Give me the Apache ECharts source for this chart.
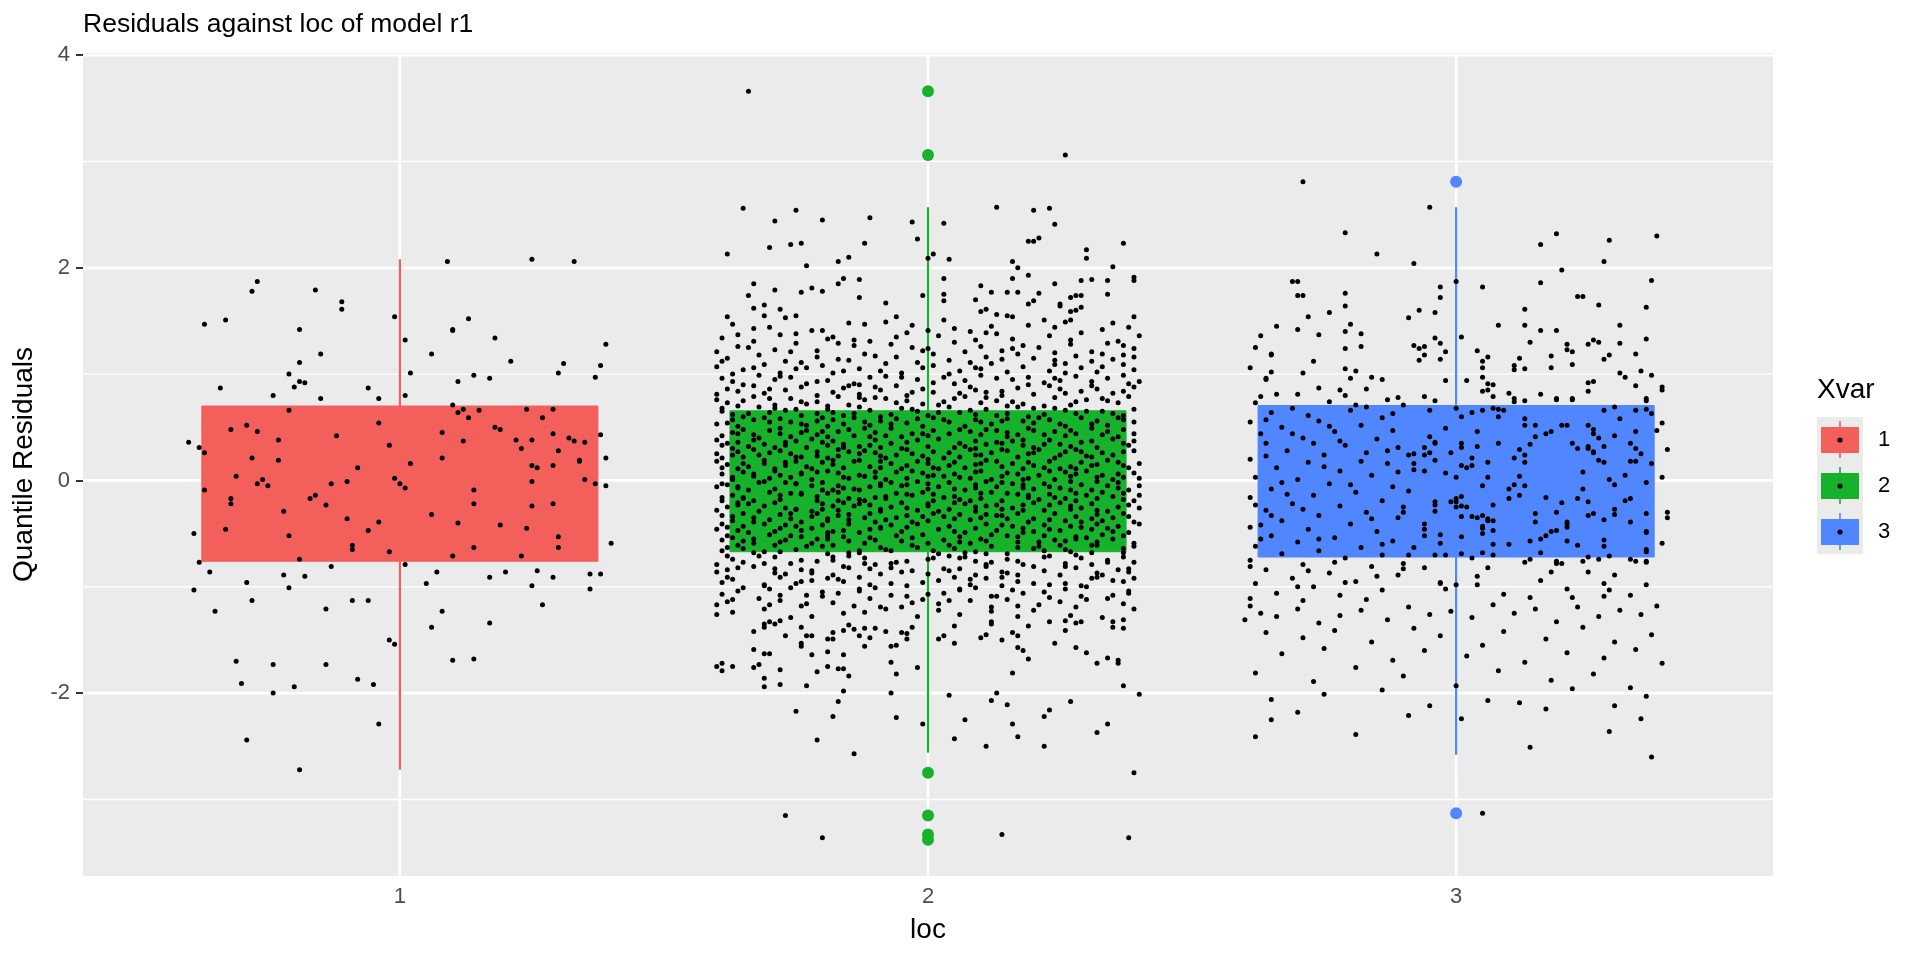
<!DOCTYPE html>
<html>
<head>
<meta charset="utf-8">
<script src="https://cdn.jsdelivr.net/npm/echarts@6.0.0/dist/echarts.min.js"></script>
<style>
html,body{margin:0;padding:0;background:#ffffff;}
#chart{width:1920px;height:960px;}
</style>
</head>
<body>
<div id="chart"></div>
<script>
// ---------- data ----------
const groups = [1, 2, 3];
const groupNames = ['1', '2', '3'];
const groupColors = ['#F35F5B', '#16B22B', '#5086FF'];

const whiskerLow  = [-2.72, -2.56, -2.58];
const boxQ1       = [-0.76, -0.67, -0.72];
const boxMedian   = [-0.03,  0.01, -0.02];
const boxQ3       = [ 0.70,  0.655, 0.705];
const whiskerHigh = [ 2.08,  2.57,  2.57];

const outlierGroup = [2, 2, 2, 2, 2, 2, 3, 3];
const outlierValue = [3.66, 3.06, -2.75, -3.15, -3.33, -3.38, 2.81, -3.13];

const yTicks = [-2, 0, 2, 4];
const yMinorLines = [-3, -1, 1, 3];
const xTicks = [1, 2, 3];

// jittered residuals: pairs (horizontal jitter offset, residual), both x100
const jitter1 = [
-27,187,-28,178,-37,147,-33,151,-16,179,-11,168,-11,161,-19,142,-1,154,1,132,
-15,119,-19,111,-21,100,-19,93,-18,92,-20,88,-34,87,-24,80,-15,77,-6,87,
-4,77,1,80,2,101,9,206,25,208,33,206,6,119,10,141,10,142,13,152,
18,134,21,112,11,93,14,99,17,96,10,71,12,67,11,64,15,66,13,59,
24,67,29,67,27,59,31,110,30,101,37,97,38,108,39,128,-21,66,-32,48,
-29,52,-27,46,-40,36,-38,31,-37,26,-23,38,-28,21,-23,19,-31,4,-26,1,
-12,42,-4,54,-2,33,-8,12,2,16,-1,2,-10,-1,8,45,8,21,12,37,
18,50,19,48,22,38,23,30,25,38,29,44,30,28,32,40,33,37,35,36,
38,43,39,21,34,19,34,18,25,14,26,12,29,14,35,1,25,-1,
-27,-3,-25,-5,-37,-9,-32,-17,-32,-22,-17,-17,-16,-14,-14,-23,-13,-3,-22,-29,
-10,-36,-4,-39,-6,-47,-39,-50,-33,-46,-21,-52,-9,-61,-9,-65,-2,-67,0,-3,
1,-7,6,-32,11,-40,14,-9,14,-22,19,-42,24,-45,25,-24,29,-22,30,-53,
30,-63,14,-63,10,-71,23,-71,37,-3,39,-5,40,-59,-38,-77,-36,-86,-39,-103,
-29,-96,-35,-123,-28,-113,-22,-89,-21,-101,-19,-74,-18,-90,-13,-81,-14,-121,-9,-113,
-6,-113,1,-79,5,-97,7,-86,8,-123,6,-138,17,-134,17,-91,20,-86,26,-85,
25,-99,27,-117,29,-91,36,-88,36,-102,38,-88,-2,-150,-1,-154,10,-169,14,-168,
-31,-170,-24,-173,-14,-173,-30,-191,-20,-194,-24,-200,-8,-187,-5,-192,-4,-229,-29,-244,-19,-272
];

const jitter2 = [
// upper tail
-34,366,26,306,-35,256,-25,254,-29,244,-20,245,-11,247,-3,243,3,242,-2,227,
-38,213,-30,219,-26,222,-24,223,-12,223,-23,202,-17,206,-15,210,0,209,1,213,
4,208,13,257,20,254,23,256,24,241,19,225,20,225,21,228,30,217,30,209,
37,223,35,201,16,206,17,200,16,190,19,193,-33,185,-34,174,-29,179,-24,177,
-22,181,-20,178,-17,185,-16,190,-13,189,-13,172,-8,167,-1,174,3,190,3,175,
3,169,-33,162,-31,165,-28,161,-31,155,-27,153,-25,155,-38,154,-6,154,9,170,
10,183,12,177,10,159,11,161,13,156,15,155,16,154,15,177,17,177,21,176,
20,169,19,166,24,185,25,164,25,166,27,172,28,174,29,174,29,188,31,189,
34,188,34,175,39,191,39,188,27,159,28,160,29,163,39,154,22,151,27,151,3,151,
// middle
-37,147,-22,141,-8,149,5,143,19,146,33,142,-30,144,-15,148,0,141,12,145,26,149,38,144,-3,146,
-39,134,-25,138,-11,131,2,136,16,133,29,139,-33,131,-18,135,-4,139,9,132,23,136,36,131,-28,137,13,138,-14,132,
-36,126,-21,122,-7,128,7,121,21,125,34,129,-29,123,-14,127,0,124,14,122,27,128,39,124,-40,121,-25,129,-3,125,18,127,31,121,
-38,115,-24,111,-10,117,4,113,17,119,31,112,-32,118,-17,114,-2,111,11,116,24,113,37,118,-27,112,-12,119,8,111,20,115,35,114,-6,116,28,117,
-35,104,-20,108,-5,101,9,106,23,103,37,109,-40,107,-28,101,-13,105,1,108,15,102,29,106,-31,109,-16,103,-1,106,12,110,26,101,39,104,-23,106,6,103,33,107,
-37,93,-26,97,-14,91,-2,95,10,99,22,92,34,96,-32,99,-19,94,-8,98,5,91,16,95,28,98,40,93,-39,96,-23,91,-11,97,1,92,13,96,25,94,37,99,-29,95,19,97,
-36,84,-24,88,-13,81,-1,86,11,83,23,89,35,82,-30,86,-18,83,-6,89,6,82,17,87,29,84,39,88,-40,81,-27,85,-15,89,-3,83,8,88,20,81,32,86,-33,89,-9,85,14,84,26,82,
-38,73,-26,77,-15,71,-4,75,7,79,18,72,30,76,-33,79,-21,74,-10,78,2,71,13,75,24,78,36,73,-40,76,-29,71,-17,79,-6,73,5,77,16,74,27,71,38,79,-35,75,-23,72,-12,76,10,73,33,77,
-37,62,-27,66,-16,61,-5,68,6,64,17,69,28,63,39,67,-32,69,-21,63,-11,66,0,61,11,67,22,62,33,65,-39,65,-29,68,-18,64,-7,62,4,69,15,63,26,66,37,61,-34,63,-24,61,-13,69,-2,65,9,62,20,68,
-38,54,-28,58,-19,51,-9,56,1,59,12,53,23,57,34,52,-33,57,-23,52,-14,59,-4,54,7,51,18,56,29,59,39,55,-36,51,-26,55,-16,53,-6,58,4,55,15,58,26,51,37,57,-31,59,-21,56,-11,52,9,57,20,54,31,53,-1,51,
-39,42,-30,47,-21,43,-12,49,-3,44,6,48,15,41,24,46,33,43,-35,48,-26,41,-17,46,-8,42,1,47,10,43,19,49,28,44,37,48,-37,45,-28,49,-19,41,-10,45,0,42,8,46,17,43,27,47,36,41,-33,43,-24,45,-15,48,-5,41,13,47,31,49,
-38,35,-29,31,-20,36,-11,33,-2,38,7,32,16,37,25,34,35,39,-34,32,-25,37,-16,31,-7,35,2,39,11,34,20,31,29,36,38,33,-40,38,-31,34,-22,39,-13,32,-4,36,5,31,14,35,23,38,32,31,-36,36,-27,33,-18,37,-9,31,9,37,18,33,39,37,
-37,24,-28,28,-19,21,-10,26,-1,23,8,29,17,22,26,27,35,24,-33,29,-24,22,-15,27,-6,24,3,21,12,26,21,29,30,23,39,28,-39,21,-30,26,-21,23,-12,28,-3,25,6,22,15,28,24,21,33,26,-35,22,-26,25,-17,29,-8,21,1,27,10,24,19,25,28,29,
-38,15,-29,11,-20,17,-11,13,-2,18,7,12,16,16,25,11,34,19,-34,13,-25,18,-16,12,-7,16,2,11,11,19,20,14,29,17,38,12,-40,18,-31,16,-22,11,-13,19,-4,14,5,17,14,13,23,18,32,15,-36,11,-27,14,-18,19,-9,12,0,16,9,15,18,11,27,13,36,17,
-39,6,-30,2,-21,8,-12,4,-3,9,6,3,15,7,24,1,33,5,-35,8,-26,3,-17,7,-8,1,1,5,10,9,19,2,28,6,37,3,-37,1,-28,5,-19,9,-10,3,-1,7,8,2,17,6,26,8,35,1,-33,4,-24,6,-15,2,-6,8,3,4,12,1,21,5,30,9,39,7,
-38,-4,-29,-8,-20,-2,-11,-6,-2,-1,7,-9,16,-3,25,-7,34,-5,-34,-9,-25,-3,-16,-7,-7,-2,2,-6,11,-1,20,-8,29,-4,38,-9,-40,-6,-31,-1,-22,-5,-13,-9,-4,-4,5,-8,14,-2,23,-6,32,-1,-36,-7,-27,-2,-18,-9,-9,-5,0,-3,9,-7,18,-4,27,-9,36,-2,
-37,-14,-28,-18,-19,-12,-10,-16,-1,-11,8,-19,17,-13,26,-17,35,-15,-33,-19,-24,-13,-15,-17,-6,-12,3,-16,12,-11,21,-18,30,-14,39,-19,-39,-16,-30,-11,-21,-15,-12,-19,-3,-14,6,-18,15,-12,24,-16,33,-11,-35,-17,-26,-12,-17,-19,-8,-15,1,-13,10,-17,19,-14,28,-19,37,-12,
-38,-25,-29,-21,-20,-27,-11,-23,-2,-28,7,-22,16,-26,25,-21,34,-29,-34,-22,-25,-27,-16,-21,-7,-25,2,-29,11,-24,20,-21,29,-26,38,-23,-40,-28,-31,-24,-22,-29,-13,-22,-4,-26,5,-21,14,-27,23,-23,32,-28,-36,-21,-27,-26,-18,-24,-9,-29,0,-22,9,-25,18,-28,27,-24,
-39,-33,-30,-37,-21,-31,-12,-35,-3,-39,6,-32,15,-36,24,-31,33,-38,-35,-31,-26,-36,-17,-33,-8,-37,1,-31,10,-35,19,-39,28,-34,37,-31,-37,-38,-28,-32,-19,-36,-10,-39,-1,-34,8,-37,17,-31,26,-38,35,-35,-33,-35,-24,-39,-15,-32,-6,-35,13,-33,31,-36,39,-39,
-38,-44,-29,-48,-20,-42,-11,-46,-2,-41,7,-49,16,-43,25,-47,34,-45,-34,-49,-25,-43,-16,-47,-7,-42,2,-46,11,-41,20,-48,29,-44,38,-49,-40,-46,-31,-41,-22,-45,-13,-49,-4,-44,5,-48,14,-42,23,-46,32,-41,-36,-47,-27,-42,-18,-48,-9,-45,18,-45,36,-43,
-37,-54,-28,-58,-19,-52,-10,-56,-1,-51,8,-59,17,-53,26,-57,35,-55,-33,-59,-24,-53,-15,-57,-6,-52,3,-56,12,-51,21,-58,30,-54,39,-59,-39,-56,-30,-51,-21,-55,-12,-59,-3,-54,6,-58,15,-52,24,-56,33,-51,-35,-57,-26,-52,10,-55,28,-53,
-38,-63,-28,-67,-18,-61,-8,-65,2,-69,12,-62,22,-66,32,-61,-33,-68,-23,-62,-13,-66,-3,-61,7,-68,17,-63,27,-67,37,-64,-39,-66,-29,-61,-19,-69,-9,-63,1,-66,11,-69,21,-62,31,-68,39,-62,-35,-64,-15,-68,5,-64,25,-61,
-37,-74,-26,-78,-15,-71,-4,-76,7,-72,18,-79,29,-73,39,-77,-32,-71,-21,-76,-10,-79,1,-73,12,-77,23,-71,34,-75,-40,-79,-29,-72,-18,-75,-7,-78,4,-71,15,-74,26,-78,37,-72,-35,-77,-12,-73,9,-76,31,-79,
-38,-84,-27,-88,-16,-81,-5,-86,6,-83,17,-89,28,-82,38,-86,-33,-81,-22,-87,-11,-83,0,-88,11,-81,22,-85,33,-89,-40,-86,-29,-83,-18,-89,-7,-82,4,-85,15,-87,26,-81,36,-84,-24,-84,9,-89,
-37,-93,-25,-97,-13,-91,-1,-96,11,-92,23,-98,35,-94,-31,-99,-19,-92,-7,-97,5,-91,17,-95,29,-99,39,-92,-39,-96,-28,-91,-16,-95,-4,-99,8,-93,20,-97,32,-91,-22,-94,14,-99,
-36,-104,-23,-108,-10,-101,3,-106,16,-103,29,-109,-30,-102,-17,-106,-4,-109,9,-101,22,-105,35,-108,-39,-107,-26,-101,-13,-104,0,-107,13,-109,26,-102,38,-104,-20,-109,6,-103,
-38,-114,-24,-118,-11,-111,2,-116,15,-112,28,-119,-32,-111,-18,-115,-5,-119,8,-113,21,-117,34,-111,-40,-117,-28,-113,-14,-118,-1,-112,12,-119,25,-114,37,-116,
-37,-124,-22,-128,-8,-121,6,-126,20,-122,33,-129,-31,-121,-16,-125,-2,-128,12,-123,27,-127,39,-121,-40,-126,-26,-129,-12,-124,2,-122,17,-128,
// lower tail
-40,-175,-39,-172,-39,-179,-37,-175,-33,-176,-32,-173,-33,-159,-33,-142,-31,-163,-30,-163,
-31,-135,-31,-138,-30,-133,-29,-135,-28,-132,-31,-186,-31,-194,-28,-192,-28,-178,-27,-146,
-24,-153,-24,-156,-24,-138,-23,-146,-22,-146,-22,-164,-21,-180,-23,-193,-25,-217,-21,-244,
-14,-257,-18,-222,-17,-208,-16,-198,-19,-175,-17,-177,-16,-177,-15,-184,-19,-161,-16,-164,
-19,-149,-18,-149,-18,-143,-16,-141,-15,-136,-14,-140,-13,-146,-12,-139,-12,-156,-11,-148,
-10,-139,-8,-142,-7,-156,-6,-155,-7,-171,-6,-182,-7,-200,-6,-223,-5,-143,-4,-144,
-4,-149,-3,-138,-2,-176,-1,-229,2,-149,3,-146,5,-137,5,-153,4,-202,7,-225,
5,-243,11,-250,10,-148,11,-145,12,-135,12,-133,14,-150,16,-143,17,-146,17,-157,
18,-160,19,-168,16,-181,19,-137,13,-200,12,-207,15,-211,16,-229,17,-241,22,-222,
23,-216,22,-250,23,-133,24,-153,26,-141,26,-132,28,-157,28,-134,29,-133,30,-162,
27,-208,32,-172,34,-167,36,-169,36,-172,35,-133,35,-138,37,-131,37,-139,37,-193,
40,-201,32,-237,34,-229,39,-275,-27,-315,-20,-336,14,-333,38,-336
];

// further group-2 residuals in the dense central cloud (same encoding)
const jitter2b = [
-33,143,-12,147,8,140,24,144,35,148,-20,141,
-36,137,-19,133,-6,135,11,139,27,132,40,136,5,130,
-34,125,-17,129,-1,122,10,126,24,120,37,127,-26,121,16,124,
-39,112,-21,116,-8,110,1,119,14,114,26,110,39,116,-15,113,33,119,
-37,100,-25,105,-9,103,4,100,18,107,32,102,-33,106,-18,101,10,105,24,109,
-35,90,-21,93,-5,97,7,94,19,90,31,93,-28,98,-13,90,3,97,24,96,38,91,
-38,86,-21,80,-10,88,1,83,14,80,25,86,37,84,-31,82,-16,87,-4,80,9,85,31,89,
-36,70,-24,74,-13,78,-1,72,11,78,22,70,34,75,-30,77,-19,70,-8,77,3,74,15,70,28,74,
-39,68,-30,64,-19,67,-9,60,2,64,13,61,24,68,35,63,-35,60,-25,67,-14,63,-3,67,8,66,19,60,30,65,
-37,57,-24,53,-12,55,-2,58,10,55,21,59,32,56,-40,53,-30,55,-18,57,-7,53,3,57,14,56,25,53,36,59,-20,59,
-36,44,-23,47,-14,42,-1,44,11,48,22,43,34,46,-32,40,-20,46,-7,49,4,44,15,45,26,42,39,44,-28,44,-11,41,20,47,
-39,33,-27,36,-16,34,-5,30,6,35,18,38,27,32,37,35,-33,38,-23,31,-10,38,0,32,13,36,22,34,31,37,-37,30,-19,33,9,30,
-36,27,-25,22,-13,25,-4,29,9,24,20,26,31,22,-32,24,-21,27,-9,23,4,26,14,29,25,24,37,27,-40,25,-17,23,0,20,29,27,
-35,16,-23,13,-14,18,-5,11,4,14,13,18,22,12,31,14,40,16,-39,12,-27,17,-18,15,-9,18,1,12,10,16,19,17,28,11,37,14,-31,19,
-37,3,-24,7,-13,5,-4,2,5,6,14,4,23,9,32,3,-33,6,-22,1,-10,8,0,4,9,8,18,1,27,4,36,6,-29,9,-16,3,40,2,
-36,-6,-25,-3,-14,-8,-5,-5,4,-2,13,-6,22,-3,31,-9,40,-5,-32,-2,-20,-9,-9,-3,0,-8,9,-4,18,-7,27,-1,36,-7,-39,-3,-17,-5,
-35,-16,-24,-12,-13,-18,-4,-13,5,-15,14,-19,23,-13,32,-17,-39,-19,-28,-14,-17,-11,-8,-17,1,-19,10,-12,19,-16,28,-12,37,-18,-21,-19,40,-14,
-36,-23,-25,-27,-14,-24,-5,-21,4,-27,13,-23,22,-28,31,-22,40,-26,-32,-29,-20,-22,-9,-27,0,-24,9,-29,18,-23,27,-27,36,-25,-17,-28,
-37,-34,-26,-31,-15,-37,-4,-33,5,-36,14,-33,23,-37,32,-32,-33,-39,-22,-34,-11,-31,0,-38,11,-32,20,-36,29,-39,38,-34,-19,-38,3,-34,
-35,-43,-24,-47,-15,-41,-5,-48,4,-43,13,-47,22,-42,31,-46,40,-41,-39,-41,-28,-45,-19,-49,-9,-44,9,-45,18,-49,27,-43,35,-48,
-38,-52,-27,-56,-16,-53,-5,-57,6,-53,17,-58,28,-55,37,-52,-33,-55,-22,-59,-11,-54,0,-59,11,-57,22,-52,32,-58,-19,-55,
-36,-61,-25,-65,-13,-68,-2,-63,9,-67,20,-64,31,-61,-31,-67,-20,-62,-7,-66,4,-61,15,-69,26,-65,37,-68,
-38,-71,-24,-75,-12,-78,0,-74,11,-79,22,-72,34,-77,-31,-78,-18,-72,-6,-77,6,-73,17,-76,28,-70,
-36,-82,-22,-85,-9,-88,3,-83,14,-86,25,-89,38,-83,-29,-87,-15,-82,-3,-85,20,-81,32,-87,
-38,-91,-24,-95,-11,-98,2,-94,14,-91,26,-97,37,-95,-31,-98,-17,-93,8,-98,31,-92,
-35,-101,-20,-105,-7,-108,6,-102,18,-106,30,-100,-28,-108,-13,-102,12,-109,38,-106,
-37,-112,-23,-116,-9,-119,4,-113,17,-118,30,-112,-30,-117,-3,-115,23,-110
];

const jitter3 = [
// upper part
-29,281,-5,257,-21,233,-15,213,-8,204,-31,187,-30,187,-30,174,-29,174,-21,176,
-21,164,-28,154,-24,158,-34,145,-30,142,-26,137,-20,147,-21,140,-18,138,-21,124,
-18,126,-37,136,-38,125,-35,118,-35,119,-39,106,-35,102,-36,96,-36,95,-27,112,
-29,101,-21,105,-19,103,-20,96,-16,97,-14,95,-26,87,-22,85,-21,80,-17,86,
-30,81,-37,79,-9,153,-7,160,-4,158,-3,182,-3,172,0,187,-8,127,-7,124,
-6,126,-7,113,-6,118,-4,134,-3,129,-2,121,-3,114,-2,94,-6,79,-11,78,
1,135,2,94,4,122,5,182,6,116,5,112,5,106,5,97,6,91,7,90,
6,85,5,84,7,79,8,146,13,146,13,161,14,130,11,108,12,115,11,104,
13,105,10,82,11,77,16,81,16,222,19,232,20,198,16,186,16,141,19,141,
21,128,21,123,22,121,18,117,18,106,22,109,23,173,24,173,27,165,25,128,
26,132,27,130,28,114,29,118,31,129,31,146,28,206,29,226,38,230,37,188,
36,163,36,133,34,119,31,101,32,97,35,103,37,99,34,89,39,88,39,85,
25,92,26,93,25,84,19,77,22,77,36,77,
// middle, right part
-4,75,11,74,13,75,19,76,22,76,36,75,-10,71,-5,66,0,68,1,60,
3,64,5,66,7,68,8,67,9,66,8,60,13,58,13,52,15,52,28,66,
30,69,31,58,34,66,36,67,37,63,39,54,38,47,34,46,30,42,27,40,
28,32,33,35,34,30,35,25,33,18,34,18,37,16,40,29,39,3,36,-2,
32,5,29,1,30,-4,24,8,24,-8,23,-17,22,35,23,30,25,32,25,30,
26,27,26,26,27,19,28,17,25,52,26,48,26,44,21,52,20,52,17,44,
18,46,15,41,14,34,12,29,11,21,13,24,13,17,8,35,4,46,4,32,
3,21,3,14,2,12,6,17,1,35,1,31,-1,26,1,14,-2,49,-5,41,
-4,36,-4,35,-6,31,-5,26,-6,24,-8,25,-9,24,-8,16,-8,10,-6,9,
-4,19,-2,7,0,3,6,3,5,-5,11,-4,12,4,13,-5,10,-8,10,-17,
12,-14,17,-16,20,-21,19,-30,15,-31,15,-39,17,-52,18,-48,19,-47,21,-41,
21,-39,21,-44,21,-57,16,-55,14,-57,16,-68,25,-33,26,-31,25,-20,28,-37,
30,-32,30,-27,32,-19,33,-17,33,-39,36,-31,40,-30,40,-35,39,-59,36,-48,
36,-49,36,-65,36,-67,28,-56,28,-62,23,-61,10,-60,7,-60,7,-70,5,-68,
7,-47,7,-38,6,-38,6,-36,4,-35,5,-33,3,-34,2,-25,1,-34,1,-15,
0,-20,0,-25,1,-24,-1,-20,0,-17,1,-53,5,-43,5,-45,5,-50,7,-23,
-4,-23,-4,-29,-4,-20,-10,-25,-10,-30,-9,-10,-6,-41,-6,-46,-6,-52,-3,-51,
-3,-59,-4,-70,-2,-70,-9,-70,-8,-63,1,-69,3,-73,
-10,-78,-6,-82,-10,-83,6,-82,13,-77,14,-74,19,-76,19,-78,20,-78,24,-76,
25,-72,27,-74,29,-71,33,-74,34,-76,36,-77,36,-76,25,-86,18,-86,16,-94,
4,-90,4,-98,-3,-96,-3,-97,-2,-102,0,-98,9,-107,14,-110,21,-102,22,-110,
28,-97,29,-103,28,-109,30,-89,33,-108,36,-98,
// middle, left part
-38,73,-31,68,-24,74,-17,69,-13,76,-35,64,-28,61,-20,66,-14,59,-39,55,
-26,56,-33,50,-18,52,-12,47,-37,44,-23,46,-29,40,-15,39,-36,35,-21,33,
-11,31,-32,28,-25,24,-17,26,-39,20,-28,17,-13,16,-34,12,-22,9,-16,5,
-38,3,-30,1,-24,-3,-12,-6,-35,-8,-19,-11,-27,-14,-39,-16,-14,-19,-31,-22,
-22,-24,-36,-28,-17,-30,-26,-33,-11,-35,-33,-38,-20,-41,-39,-44,-28,-46,-15,-48,
-35,-52,-23,-54,-30,-58,-12,-57,-38,-62,-18,-63,-26,-66,-33,-69,-14,-70,-21,-73,
-39,-75,-29,-79,-16,-81,-36,-84,-24,-87,-11,-89,-31,-92,-19,-95,-38,-97,-27,-100,
-14,-103,-34,-106,-22,-108,-39,-111,-29,-113,-17,-112,-37,-42,-32,-13,-19,71,-27,35,
-15,-90,-36,57,-23,-77,-30,-100,-12,63,-25,13,-38,-23,-20,-4,-34,81,-16,-36,
-29,-27,-37,-55,-13,28,-22,37,-33,-2,-18,18,-26,-55,-39,-81,-31,44,-14,-60,
-24,51,-35,-33,-21,-96,-11,8,-28,-85,-36,23,
// lower part
-39,-118,-37,-125,-40,-131,-34,-128,-30,-121,-26,-134,-22,-127,-18,-122,-13,-131,-9,-119,
-5,-126,-1,-123,3,-129,7,-117,11,-125,15,-121,19,-133,23,-119,27,-128,31,-122,
35,-126,38,-118,-36,-143,-29,-148,-23,-141,-16,-152,-8,-139,-3,-146,5,-155,9,-142,
17,-149,24,-138,30,-152,37,-145,-33,-163,-25,-158,-12,-169,-6,-160,2,-165,13,-171,
21,-162,28,-167,34,-159,39,-172,-38,-181,-27,-189,-19,-176,-10,-184,0,-193,8,-179,
18,-188,26,-182,33,-195,-35,-206,-30,-218,-25,-201,-14,-197,-5,-212,6,-207,12,-209,
22,-196,30,-212,36,-203,-38,-241,-35,-225,-19,-239,-9,-221,1,-224,14,-251,17,-215,
29,-236,35,-224,37,-260,5,-313
];

// ---------- chart ----------
const FONT = 'Liberation Sans, Arial, Helvetica, sans-serif';

function jitterPoints(g, arr) {
  const out = [];
  for (let i = 0; i < arr.length; i += 2) out.push([g + arr[i] / 100, arr[i + 1] / 100]);
  return out;
}
const allPoints = [].concat(
  jitterPoints(groups[0], jitter1),
  jitterPoints(groups[1], jitter2),
  jitterPoints(groups[1], jitter2b),
  jitterPoints(groups[2], jitter3)
);

const gridLineData = []
  .concat(yMinorLines.map(v => [2, v, 0]))
  .concat(yTicks.map(v => [2, v, 1]))
  .concat(xTicks.map(v => [v, 0, 2]));

const boxSeries = groups.map((g, i) => ({
  type: 'custom',
  name: groupNames[i],
  z: 3,
  silent: true,
  itemStyle: { color: groupColors[i] },
  encode: { x: 0, y: [1, 2, 3, 4, 5] },
  data: [[g, whiskerLow[i], boxQ1[i], boxMedian[i], boxQ3[i], whiskerHigh[i]]],
  renderItem: function (params, api) {
    const x = api.value(0);
    const half = api.size([0.375, 0])[0];
    const pLo = api.coord([x, api.value(1)]);
    const pQ1 = api.coord([x, api.value(2)]);
    const pMed = api.coord([x, api.value(3)]);
    const pQ3 = api.coord([x, api.value(4)]);
    const pHi = api.coord([x, api.value(5)]);
    const color = api.visual('color');
    return {
      type: 'group',
      children: [
        { type: 'line', shape: { x1: pLo[0], y1: pLo[1], x2: pLo[0], y2: pQ1[1] }, style: { stroke: color, lineWidth: 2.2 } },
        { type: 'line', shape: { x1: pHi[0], y1: pHi[1], x2: pHi[0], y2: pQ3[1] }, style: { stroke: color, lineWidth: 2.2 } },
        { type: 'rect', shape: { x: pQ3[0] - half, y: pQ3[1], width: 2 * half, height: pQ1[1] - pQ3[1] }, style: { fill: color, stroke: color, lineWidth: 1 } },
        { type: 'line', shape: { x1: pMed[0] - half, y1: pMed[1], x2: pMed[0] + half, y2: pMed[1] }, style: { stroke: color, lineWidth: 2 } }
      ]
    };
  }
}));

const option = {
  animation: false,
  backgroundColor: '#ffffff',
  textStyle: { fontFamily: FONT },
  title: [
    { text: 'Residuals against loc of model r1', left: 83, top: 11, padding: 0,
      textStyle: { fontSize: 26.5, fontWeight: 'normal', color: '#000000', fontFamily: FONT } },
    { text: 'Xvar', left: 1817, top: 376, padding: 0,
      textStyle: { fontSize: 28, fontWeight: 'normal', color: '#000000', fontFamily: FONT } }
  ],
  grid: { left: 83, right: 147, top: 53, bottom: 84, show: true, backgroundColor: '#EBEBEB', borderWidth: 0 },
  xAxis: {
    type: 'value', min: 0.4, max: 3.6,
    name: 'loc', nameLocation: 'middle', nameGap: 40,
    nameTextStyle: { fontSize: 28, color: '#000000', fontFamily: FONT },
    axisLine: { show: false },
    axisTick: { show: true, length: 7, customValues: xTicks, lineStyle: { color: '#333333', width: 2 } },
    axisLabel: { customValues: xTicks, fontSize: 22, color: '#4D4D4D', margin: 10, fontFamily: FONT },
    splitLine: { show: false }
  },
  yAxis: {
    type: 'value', min: -3.72, max: 4.02,
    name: 'Quantile Residuals', nameLocation: 'middle', nameGap: 45,
    nameTextStyle: { fontSize: 28, color: '#000000', fontFamily: FONT },
    axisLine: { show: false },
    axisTick: { show: true, length: 7, customValues: yTicks, lineStyle: { color: '#333333', width: 2 } },
    axisLabel: { customValues: yTicks, fontSize: 22, color: '#4D4D4D', margin: 13, fontFamily: FONT },
    splitLine: { show: false }
  },
  legend: {
    data: groupNames,
    orient: 'vertical',
    left: 1821, top: 421,
    padding: 0,
    itemWidth: 38, itemHeight: 37, itemGap: 9,
    icon: 'path://M0,6H38V32H0Z M18.2,0H19.8V6H18.2Z M18.2,32H19.8V37H18.2Z',
    selectedMode: false,
    textStyle: { fontSize: 22, color: '#000000', fontFamily: FONT, padding: [0, 0, 0, 14] }
  },
  graphic: [
    { type: 'rect', left: 1817, top: 417, z: 0, shape: { width: 46, height: 137 }, style: { fill: '#EBEBEB' } },
    { type: 'circle', left: 1837.4, top: 437.4, z: 100, shape: { r: 2.6 }, style: { fill: '#000000' } },
    { type: 'circle', left: 1837.4, top: 483.4, z: 100, shape: { r: 2.6 }, style: { fill: '#000000' } },
    { type: 'circle', left: 1837.4, top: 529.4, z: 100, shape: { r: 2.6 }, style: { fill: '#000000' } }
  ],
  series: [
    {
      type: 'custom', name: 'grid lines', silent: true, z: 1,
      encode: { x: 0, y: 1 },
      data: gridLineData,
      renderItem: function (params, api) {
        const cs = params.coordSys;
        const kind = api.value(2);
        if (kind === 2) {
          const x = api.coord([api.value(0), 0])[0];
          return { type: 'line', shape: { x1: x, y1: cs.y, x2: x, y2: cs.y + cs.height }, style: { stroke: '#ffffff', lineWidth: 2.7 } };
        }
        const y = api.coord([2, api.value(1)])[1];
        return { type: 'line', shape: { x1: cs.x, y1: y, x2: cs.x + cs.width, y2: y },
                 style: { stroke: '#ffffff', lineWidth: kind === 1 ? 2.7 : 1.4 } };
      }
    }
  ].concat(boxSeries).concat([
    {
      type: 'scatter', name: 'outliers', silent: true, z: 4,
      symbolSize: 12,
      data: outlierGroup.map((g, i) => [g, outlierValue[i]]),
      itemStyle: { opacity: 1, color: function (p) { return groupColors[p.data[0] - 1]; } }
    },
    {
      type: 'scatter', name: 'residuals', silent: true, z: 5,
      symbolSize: 5,
      data: allPoints,
      itemStyle: { color: '#000000', opacity: 1 }
    }
  ])
};

const chart = echarts.init(document.getElementById('chart'), null, { renderer: 'canvas' });
chart.setOption(option);
</script>
</body>
</html>
